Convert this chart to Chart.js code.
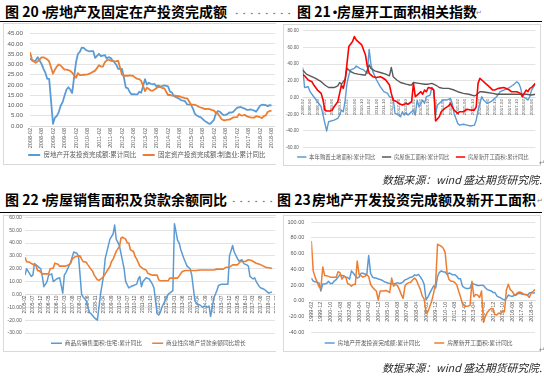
<!DOCTYPE html>
<html><head><meta charset="utf-8">
<script src="https://cdn.jsdelivr.net/npm/chart.js@4/dist/chart.umd.min.js"></script>
<style>
html,body{margin:0;padding:0;background:#fff;}
body{width:544px;height:378px;position:relative;overflow:hidden;font-family:"Noto Sans CJK SC",sans-serif;}
.abs{position:absolute;white-space:nowrap;}
.t{font-size:14px;font-weight:700;line-height:14px;color:#000;}
.rule{position:absolute;left:0;width:542px;height:1px;background:#000;}
.lead{position:absolute;height:3px;background-image:radial-gradient(circle,#7f7f7f 0.75px,transparent 1.15px);background-size:7.5px 3px;}
.box{position:absolute;border:1px solid #d9d9d9;box-sizing:border-box;}
.src{font-size:10.8px;line-height:11px;font-style:italic;color:#262626;}
.ret{font-size:7px;line-height:7px;color:#808080;}
.clip{position:absolute;overflow:hidden;}
canvas{position:absolute;left:0;top:0;}
</style></head><body>

<div class="abs t" style="left:5px;top:4px">图 20</div>
<div class="abs t" style="left:37px;top:4px">·</div>
<div class="abs t" style="left:45px;top:4px">房地产及固定在产投资完成额</div>
<div class="lead" style="left:233px;top:12px;width:60px"></div>
<div class="abs t" style="left:297px;top:4px">图 21</div>
<div class="abs t" style="left:328px;top:4px">·</div>
<div class="abs t" style="left:337px;top:4px">房屋开工面积相关指数</div>
<div class="abs ret" style="left:476px;top:9px">↵</div>
<div class="rule" style="top:21px"></div>

<div class="box" style="left:3px;top:23px;width:273px;height:142px;border-right:none"></div>
<div class="box" style="left:283px;top:24px;width:258px;height:142px"></div>
<div class="clip" style="left:0;top:23px;width:275px;height:150px"><canvas id="c20" width="300" height="150"></canvas></div>
<div class="abs" style="left:283px;top:23px;width:258px;height:150px"><canvas id="c21" width="258" height="150"></canvas></div>
<div class="abs ret" style="left:539px;top:159px">↵</div>
<div class="abs src" style="left:382px;top:174px">数据来源：wind 盛达期货研究院.</div>

<div class="abs t" style="left:5px;top:192px">图 22</div>
<div class="abs t" style="left:37px;top:192px">·</div>
<div class="abs t" style="left:45px;top:192px">房屋销售面积及贷款余额同比</div>
<div class="lead" style="left:230px;top:200px;width:44px"></div>
<div class="abs t" style="left:277px;top:192px">图 23</div>
<div class="abs t" style="left:308px;top:192px">·</div>
<div class="abs t" style="left:312px;top:192px">房地产开发投资完成额及新开工面积</div>
<div class="abs ret" style="left:537px;top:197px">↵</div>
<div class="rule" style="top:212px"></div>

<div class="box" style="left:3px;top:215px;width:273px;height:137px;border-right:none"></div>
<div class="box" style="left:283px;top:215px;width:258px;height:137px"></div>
<div class="clip" style="left:0;top:210px;width:275px;height:150px"><canvas id="c22" width="300" height="150"></canvas></div>
<div class="clip" style="left:283px;top:212px;width:261px;height:150px"><canvas id="c23" width="276" height="150"></canvas></div>
<div class="abs ret" style="left:539px;top:346px">↵</div>
<div class="abs src" style="left:382px;top:362px">数据来源：wind 盛达期货研究院.</div>

<script>
// ---------- helpers ----------
function makeTicks(y, m, step, count) {
  const out = [];
  for (let i = 0; i < count; i++) {
    const t = y * 12 + (m - 1) + i * step;
    out.push(Math.floor(t / 12) + '-' + String(t % 12 + 1).padStart(2, '0'));
  }
  return out;
}
const idx = (n, step) => Array.from({length: n}, (_, i) => i * step);

// ---------- 图20: monthly from 2008-02 (January not published -> null) ----------
const c20TickLabels = makeTicks(2008, 2, 6, 22);
const c20Months = idx(127, 1);
const c20RealEstate = [
32.9,32.1,31.5,32.0,33.5,32.0,30.3,28.0,26.0,23.0,23.0,null,
1.0,4.1,4.9,6.8,9.9,11.6,14.7,17.7,18.9,17.8,16.1,null,
31.1,35.1,36.2,38.2,38.1,37.2,36.7,36.4,36.5,36.5,33.2,null,
35.2,34.1,34.3,34.6,32.9,33.6,33.2,32.0,31.1,29.9,27.9,null,
27.8,23.5,18.7,18.5,16.6,15.4,15.6,15.4,15.4,16.7,16.2,null,
22.8,20.2,21.1,20.6,20.3,20.5,19.3,19.7,19.2,19.5,19.8,null,
19.3,16.8,16.4,14.7,14.1,13.7,13.2,12.5,12.4,11.9,10.5,null,
10.4,8.5,6.0,5.1,4.6,4.3,3.5,2.6,2.0,1.3,1.0,null,
3.0,6.2,7.2,7.0,6.1,5.3,5.4,5.8,6.6,6.5,6.9,null,
8.9,9.1,9.3,8.8,8.5,7.9,7.9,8.1,7.8,7.5,7.0,null,
9.9,10.4,10.3,10.2,9.7,10.2,10.1];
const c20Manufacturing = [
36.0,32.5,31.5,30.8,31.5,32.5,33.5,33.5,33.0,32.5,31.5,null,
25.5,27.5,29.0,30.0,29.5,28.5,27.5,27.5,27.3,26.8,26.0,null,
23.5,25.8,24.8,24.8,25.0,25.0,25.2,25.5,26.0,26.5,27.0,null,
29.6,29.0,29.0,31.0,32.0,32.3,31.9,31.6,31.5,31.6,31.8,null,
25.0,24.5,24.5,24.5,24.7,24.6,24.3,23.5,23.0,22.9,22.0,null,
17.0,18.7,18.0,17.3,17.2,17.8,18.5,19.0,19.0,18.5,18.5,null,
15.1,15.2,14.8,14.8,14.8,14.6,14.5,14.0,13.9,13.5,13.5,null,
10.5,10.4,10.3,10.0,9.4,9.0,8.8,8.3,8.3,8.4,8.1,null,
7.5,6.4,6.0,4.6,3.3,2.8,2.8,3.1,3.1,3.6,4.2,null,
4.3,5.8,5.2,5.1,5.5,4.8,4.5,4.2,4.1,4.1,4.8,null,
4.3,3.8,4.8,5.2,6.8,7.3,7.5];

// ---------- 图21: month offsets from 2008-02 ----------
const c21TickLabels = makeTicks(2008, 2, 4, 32);
const c21LandM = [0,1,3,4,6,8,10,11,13,14,17,19,20,21,22,23,24,25,26,28,29,31,33,35,36,37,38,40,42,44,46,47,49,50,52,53,54,55,56,57,59,60,61,62,63,65,66,67,69,70,71,72,73,75,76,78,80,81,82,84,85,87,89,91,93,94,95,96,97,98,100,102,103,105,107,109,111,112,114,116,117,118,119,121,122,123,124,126];
const c21LandV = [36,12,13,7,1,-5,-11,-21,-40,-29,-27,-25,-21,-15,-17,-3,17,27,33,35,37.7,35,33,29,57.6,39,31,21,13,7,5,1,-1,-19,-21,-23,-17,-21,-18,-21,-17,-15,-21,-3,-11,-3,-7,1,3,12,9,-19,-9,-5,-3,-3,-1,-7,-19,-31,-33,-32,-33,-34,-33,-27,-15,-7,1,-3,-7,-5,-3,1,7,9,11,12,15,19,17,12,1,-1,-3,1,9,16];
const c21BuildM = [0,2,4,7,10,12,14,17,19,20,21,22,23,24,26,28,30,33,34,36,37,39,42,45,47,48,49,51,53,56,58,59,60,63,66,68,70,72,74,76,79,82,84,87,90,93,94,96,97,100,103,105,110,115,121,124,126];
const c21BuildV = [33,28,26,23,19,15,12,12,14,18,16,19,22,35,31,29,28,27,27,39,35,32,30,28,26,36,25,21,18,16,15,15,18,17,16,16,17,15,12,11,11,9,7,5,4,2,3,7,7,6,5,4,4,4,4,3,4];
const c21NewM = [0,1,3,5,6,8,10,11,12,13,15,16,17,19,20,21,22,23,24,25,27,28,29,30,32,34,35,36,38,40,42,43,45,47,48,49,51,52,54,56,57,59,60,61,62,64,65,66,67,68,70,71,72,74,75,77,79,80,82,84,85,87,89,91,93,94,95,96,97,99,101,103,104,106,109,112,113,116,118,119,121,122,123,124,126];
const c21NewV = [27,26,21,19,15,9,5,-3,-15,-16,-16,-15,-11,-5,5,15,11,21,41,61,67,73,69,67,63,51,37,29,25,24,25,24,21,15,5,-3,-5,-7,-9,-7,-8,-5,17,1,3,7,4,9,7,12,11,9,-28,-23,-17,-13,-10,-7,-15,-19,-17,-17,-14,-15,-15,-11,17,23,21,17,13,9,9,11,12,9,7,7,5,1,9,7,11,12,17];

// ---------- 图22: month offsets from 2005-02 ----------
const c22TickLabels = makeTicks(2005, 2, 5, 35);
const c22SaleM = [0,1,3,4,5,6,7,8,10,11,12,13,14,15,17,18,20,22,24,25,26,29,31,33,34,36,37,39,40,41,42,44,46,48,50,51,54,56,57,58,60,61,63,64,66,67,69,71,72,73,74,75,77,79,81,82,83,84,85,86,87,89,91,93,94,95,97,98,99,101,102,103,105,106,107,108,110,111,113,114,116,117,118,119,120,122,123,125,127,129,130,132,133,135,136,138,139,141,142,143,145,146,147,149,150,152,154,155,157];
const c22SaleV = [15,20,16,14,15,24,23,22,20,14,6,8,10,15,16,10,12,13,1,15,17,25,33,32,30,0,-2,-5,-10,-14,-15,-18,-20,0,15,28,43,47,54,43,38,32,20,10,5,6,7,8,12,14,6,10,13,12,8,5,-5,-15,-16,-14,-10,-5,0,2,3,55,42,40,35,28,25,22,20,15,5,-5,-8,-8,-10,-9,-10,-9,-17,-10,-3,3,7,8,8,8,30,38,33,28,26,27,24,23,22,14,12,13,10,6,5,4,2,1,2];
const c22LoanM = [0,1,3,4,5,7,8,9,11,15,16,18,19,21,22,26,29,30,32,35,36,37,39,40,42,43,44,46,47,49,50,52,54,55,56,58,59,60,61,62,64,65,66,67,69,70,71,73,75,77,78,81,84,85,86,91,92,97,100,102,109,111,120,122,126,128,130,132,135,137,140,142,144,147,150,153,157];
const c22LoanV = [29,25.5,25,24,23.5,22.5,18.5,18.5,16,16,20,20.5,24.3,23.5,22,22,24,27.5,29.5,30,27.5,25.5,25,23,19.5,18,15,11.4,11,12.7,14,18,21.7,25.6,27.5,33.5,35.5,37,43.7,44.5,43,40,40,34.7,33.4,29.5,27.5,22,20,19,16.5,15,15,11.4,10.6,10.6,12.7,12.7,17.8,18.6,18.6,19,19,19.7,19.7,21.2,21.2,23,23,25.6,25.6,27,26.4,24.3,23,21.2,20.4];

// ---------- 图23: every second month from 1999-02 ----------
const c23TickLabels = makeTicks(1999, 2, 10, 24);
const c23Months = idx(118, 2);
const c23Invest = [
28.8,25,24,23.4,22.6,12.3, 21.4,21.4,21.8,24.7,22,21.8,
25,26.7,30,33,32,31.7, 30,29.6,27.5,38,35,31.7,
28.8,30,35,35,34,33, 57.6,35,30,29,28.8,27.5,
27,26,24.5,23.4,22.6,22, 21.4,21.5,21.8,23,22,22.5,
24,26.5,27.5,28.8,30,30.5,
32.9,32.2,33.5,30.3,26.6,20.9, 1.0,4.9,9.9,14.7,18.9,16.1,
31.1,36.2,38.1,36.7,36.5,33.2, 35.2,34.3,32.9,33.2,31.1,27.9,
27.8,18.7,16.6,15.6,15.4,16.2, 22.8,21.1,20.3,19.3,19.2,19.8,
19.3,16.4,14.1,13.2,12.4,10.5, 10.4,6.0,4.6,3.5,2.0,1.0,
3.0,7.2,6.1,5.4,6.6,6.9, 8.9,9.3,8.5,7.9,7.8,7.0,
9.9,10.3,9.7,10.1];
const c23NewStart = [
76,38,30,24,18,16, 43,32,31.7,31,30,30,
30,30,37,35.8,27.5,30.8, 30,21.8,20.6,18.5,20.6,20.6,
50.6,33,32,30,31,33, 30.8,20.6,17,14.4,12.3,0.8,
12.3,12.3,12.3,13,12,10.2, 28.8,18.5,20.6,19.5,14.4,8,
3,19,21.8,23,23.5,26.7, 28.8,26,20,14.4,6,2,
-16.4,-14,-7,0,10,22.6, 72,70.5,69.5,67,61,35,
27,24.7,24.7,23,20.6,12.3, 5,-4,-7,-7,-7,-6,
24.7,5,8,7,4,12.3, -27.6,-20,-15,-12,-10,-10.7,
-17.7,-18.3,-15.8,-16.8,-13.9,-14, 14,21,14,12,8,8.1,
10.4,11,10.2,8.2,8,7, 4,10,12,14.4];

// ---------- rendering ----------
const CJK = '"Noto Sans CJK SC", sans-serif';
const NUM = '"Liberation Sans", Arial, sans-serif';
const BLUE = '#5B9BD5', ORANGE = '#ED7D31', GREY = '#595959', RED = '#FF0000';

function ser(label, color, width, order, xs, ys) {
  return { label, data: xs.map((x, i) => ({ x, y: ys[i] })), borderColor: color, backgroundColor: color,
    borderWidth: width, pointRadius: 0, pointHoverRadius: 0, tension: 0, spanGaps: true, order,
    borderJoinStyle: 'round' };
}

function makeChart(id, o) {
  const tickVals = o.tickLabels.map((_, i) => i * o.tickStep);
  const scales = {
    x: {
      type: 'linear', position: o.xPos, min: 0, max: o.xMax,
      afterBuildTicks: s => { s.ticks = tickVals.map(v => ({ value: v })); },
      afterFit: s => { s.height = o.xH; },
      grid: { display: false, drawTicks: false },
      border: { display: true, color: '#D9D9D9', width: 0.75 },
      ticks: { autoSkip: false, minRotation: 90, maxRotation: 90, padding: o.xPad, color: '#595959',
        font: { family: NUM, size: o.xFont },
        callback: v => { const k = Math.round(v / o.tickStep); return o.tickLabels[k] || ''; } }
    },
    y: {
      type: 'linear', position: 'left', min: o.yMin, max: o.yMax,
      afterBuildTicks: s => { const t = []; for (let v = o.yMin; v <= o.yMax + 1e-9; v += o.yStep) t.push({ value: v }); s.ticks = t; },
      afterFit: s => { s.width = o.yW; },
      grid: { color: '#D9D9D9', lineWidth: 0.75, drawTicks: false },
      border: { display: false },
      ticks: { autoSkip: false, padding: o.yPad, color: '#595959', font: { family: NUM, size: o.yFont }, callback: v => Number(v).toFixed(2) }
    }
  };
  if (o.rightGap) {
    // empty spacer on the right, only used to centre the legend under the whole chart box
    scales.spacer = { type: 'linear', position: 'right', display: true, min: 0, max: 1,
      afterFit: s => { s.width = o.rightGap; },
      ticks: { display: false }, grid: { display: false, drawTicks: false }, border: { display: false } };
  }
  return new Chart(document.getElementById(id), {
    type: 'line',
    data: { datasets: o.datasets },
    options: {
      responsive: false, animation: false, devicePixelRatio: 1,
      layout: { padding: o.padding },
      plugins: {
        tooltip: { enabled: false },
        legend: {
          position: 'bottom', align: o.legendAlign,
          labels: {
            font: { family: CJK, size: o.legendFont }, color: '#595959',
            padding: o.legendPad, boxWidth: o.boxW, boxHeight: o.boxH,
            generateLabels: (chart) => chart.data.datasets.map((ds, i) => ({
              text: ds.label + ((o.legendSuffix && o.legendSuffix[i]) || ''),
              fillStyle: ds.borderColor, strokeStyle: ds.borderColor, lineWidth: 0,
              hidden: false, datasetIndex: i, fontColor: '#595959'
            }))
          }
        }
      },
      scales
    }
  });
}

makeChart('c20', {
  datasets: [
    ser('房地产开发投资完成额:累计同比', BLUE, 1.8, 1, c20Months, c20RealEstate),
    ser('固定资产投资完成额:制造业:累计同比', ORANGE, 1.8, 0, c20Months, c20Manufacturing)
  ],
  tickLabels: c20TickLabels, tickStep: 6, xMax: 137.6, xPos: 'bottom', xH: 22.5, xPad: 2, xFont: 5.5,
  yMin: 0, yMax: 45, yStep: 5, yW: 30, yPad: 7, yFont: 6.2,
  padding: { left: 0, right: 6.25, top: 9, bottom: 4.75 },
  legendAlign: 'center', legendFont: 6.5, legendPad: 3.25, boxW: 12, boxH: 2,
  legendSuffix: ['\u2002', '']
});

makeChart('c21', {
  datasets: [
    ser('本年购置土地面积:累计同比', BLUE, 1.4, 2, c21LandM, c21LandV),
    ser('房屋施工面积:累计同比', GREY, 1.4, 1, c21BuildM, c21BuildV),
    ser('房屋新开工面积:累计同比', RED, 1.6, 0, c21NewM, c21NewV)
  ],
  tickLabels: c21TickLabels, tickStep: 4, xMax: 126, xPos: { y: 0 }, xH: 0, xPad: 1.5, xFont: 4.4,
  yMin: -60, yMax: 80, yStep: 20, yW: 19.7, yPad: 4, yFont: 4.5,
  padding: { left: 0, right: 5.7, top: 7.7, bottom: 3.3 },
  legendAlign: 'end', legendFont: 5.4, legendPad: 6.6, boxW: 9.3, boxH: 1.5
});

makeChart('c22', {
  datasets: [
    ser('商品房销售面积:住宅:累计同比', BLUE, 1.5, 1, c22SaleM, c22SaleV),
    ser('商业性房地产贷款余额同比增长', ORANGE, 1.6, 0, c22LoanM, c22LoanV)
  ],
  tickLabels: c22TickLabels, tickStep: 5, xMax: 172.66, xPos: { y: 0 }, xH: 0, xPad: 1, xFont: 4.9,
  yMin: -30, yMax: 60, yStep: 10, yW: 25, yPad: 3.3, yFont: 5,
  padding: { left: 0, right: 3.4, top: 7.3, bottom: 3.85 },
  legendAlign: 'center', legendFont: 5.7, legendPad: 7.45, boxW: 11, boxH: 1.5,
  legendSuffix: ['\u2002', '']
});

makeChart('c23', {
  datasets: [
    ser('房地产开发投资完成额:累计同比', BLUE, 1.5, 1, c23Months, c23Invest),
    ser('房屋新开工面积:累计同比', ORANGE, 1.5, 0, c23Months, c23NewStart)
  ],
  tickLabels: c23TickLabels, tickStep: 10, xMax: 234, xPos: { y: 0 }, xH: 0, xPad: 1, xFont: 5.5,
  yMin: -40, yMax: 100, yStep: 20, yW: 28.3, yPad: 7, yFont: 5.5,
  padding: { left: 0, right: 4.8, top: 6.7, bottom: 6.1 }, rightGap: 19.1,
  legendAlign: 'center', legendFont: 5.8, legendPad: 8.1, boxW: 10, boxH: 1.5,
  legendSuffix: ['\u3000', '']
});
</script>
</body></html>
